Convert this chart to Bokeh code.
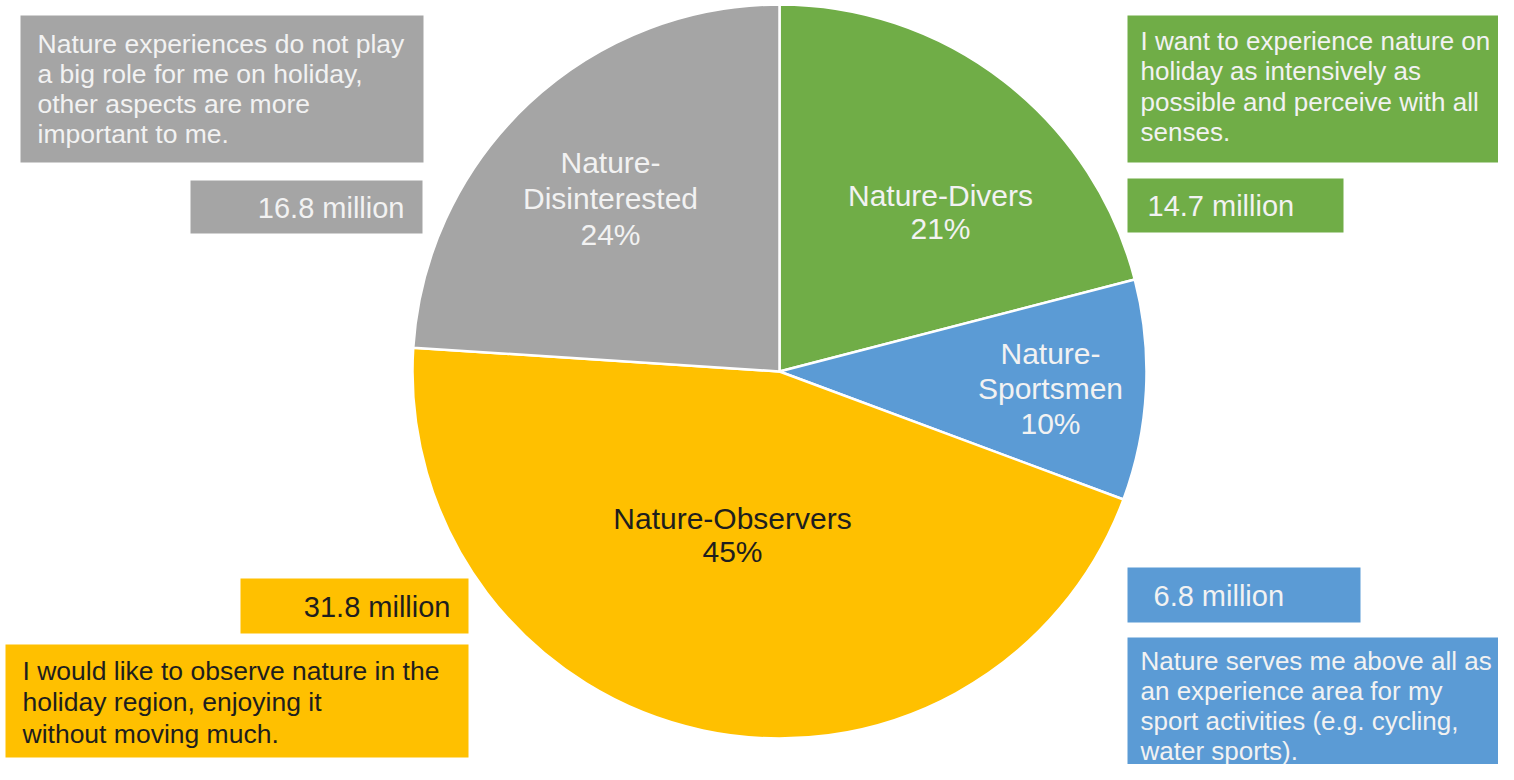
import numpy as np
from bokeh.plotting import figure
from bokeh.models import Range1d, ColumnDataSource
from bokeh.core.properties import value
from bokeh.embed import file_html
from bokeh.resources import INLINE

# ---------------- data ----------------
segments = ["Nature-Divers", "Nature-Sportsmen", "Nature-Observers", "Nature-Disinterested"]
millions = [14.7, 6.8, 31.8, 16.8]
percents = ["21%", "10%", "45%", "24%"]
pie_label_lines = [["Nature-Divers", "21%"],
                   ["Nature-", "Sportsmen", "10%"],
                   ["Nature-Observers", "45%"],
                   ["Nature-", "Disinterested", "24%"]]
million_labels = ["14.7 million", "6.8 million", "31.8 million", "16.8 million"]
descriptions = [
    ["I want to experience nature on", "holiday as intensively as",
     "possible and perceive with all", "senses."],
    ["Nature serves me above all as", "an experience area for my",
     "sport activities (e.g. cycling,", "water sports)."],
    ["I would like to observe nature in the", "holiday region, enjoying it",
     "without moving much."],
    ["Nature experiences do not play", "a big role for me on holiday,",
     "other aspects are more", "important to me."],
]
colors = ["#70AD47", "#5B9BD5", "#FFC000", "#A5A5A5"]
text_colors = ["#F2F2F2", "#F2F2F2", "#1E1E1E", "#F2F2F2"]

# ---------------- layout helpers ----------------
FW, FH = 1498, 764
def Y(py):
    return FH - py

FONT = value("Liberation Sans")

p = figure(width=FW, height=FH, output_backend="svg", toolbar_location=None,
           x_range=Range1d(0, FW), y_range=Range1d(0, FH), min_border=0)
p.axis.visible = False
p.grid.visible = False
p.outline_line_color = None
p.background_fill_color = "white"
p.border_fill_color = "white"

# ---------------- pie ----------------
vals = np.array(millions)
frac = vals / vals.sum()
cum = np.concatenate([[0], np.cumsum(frac)])
start = np.pi / 2 - cum[:-1] * 2 * np.pi
end = np.pi / 2 - cum[1:] * 2 * np.pi
cx, cy, r = 779, Y(371), 367
src = ColumnDataSource(dict(start=start, end=end, color=colors, seg=segments))
p.wedge(x=cx, y=cy, radius=r, start_angle="start", end_angle="end",
        direction="clock", fill_color="color", line_color="white",
        line_width=2.5, source=src)

# pie labels (layout positions, centre x and first line y)
pie_label_pos = [(940, 195), (1050, 353), (732, 518), (610, 162)]
pie_line_gap = [33, 35, 33, 36]
for i, lines in enumerate(pie_label_lines):
    x0, y0 = pie_label_pos[i]
    ys = [Y(y0 + k * pie_line_gap[i]) for k in range(len(lines))]
    p.text(x=[x0] * len(lines), y=ys, text=lines, text_font=FONT,
           text_font_size="30px", text_color=text_colors[i],
           text_align="center", text_baseline="middle")

# ---------------- boxes ----------------
# (left, right, top, bottom) in page px
million_boxes = [(1127, 1343, 178, 232), (1127, 1360, 567, 622),
                 (240, 468, 578, 633), (190, 422, 180, 233)]
million_text = [(1147, 205, "left"), (1153, 595, "left"),
                (450, 606, "right"), (404, 207, "right")]
desc_boxes = [(1127, 1520, 15, 162), (1127, 1520, 637, 790),
              (5, 468, 644, 757), (20, 423, 15, 162)]
desc_text = [(1140, 40, 30.5), (1140, 660, 30), (22, 670, 31.5), (37, 43, 30)]
desc_size = ["26px", "26px", "26.5px", "26.5px"]

for i in range(4):
    l, rr, t, b = million_boxes[i]
    p.quad(left=l, right=rr, top=Y(t), bottom=Y(b), fill_color=colors[i], line_color=None)
    tx, ty, al = million_text[i]
    p.text(x=[tx], y=[Y(ty)], text=[million_labels[i]], text_font=FONT,
           text_font_size="29px", text_color=text_colors[i],
           text_align=al, text_baseline="middle")

    l, rr, t, b = desc_boxes[i]
    p.quad(left=l, right=rr, top=Y(t), bottom=Y(b), fill_color=colors[i], line_color=None)
    tx, ty, gap = desc_text[i]
    lines = descriptions[i]
    p.text(x=[tx] * len(lines), y=[Y(ty + k * gap) for k in range(len(lines))],
           text=lines, text_font=FONT, text_font_size=desc_size[i],
           text_color=text_colors[i], text_align="left", text_baseline="middle")

open("out.html", "w").write(file_html(p, INLINE))
